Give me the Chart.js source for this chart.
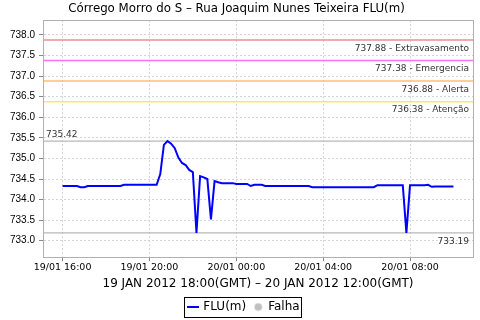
<!DOCTYPE html>
<html>
<head>
<meta charset="utf-8">
<script src="https://cdn.jsdelivr.net/npm/chart.js@4.4.1/dist/chart.umd.min.js"></script>
<style>
  body { margin: 0; background: #fff; }
  #wrap { width: 480px; height: 320px; }
</style>
</head>
<body>
<div id="wrap"><canvas id="myChart" width="480" height="320"></canvas></div>
<script>
// leituras do nivel (hora local), 19/01 16:00 -> 20/01 10:00
const times = ['16:00','16:40','16:50','17:00','17:10','18:40','18:50','20:20','20:30','20:40','20:50','21:00',
  '21:10','21:20','21:30','21:40','21:50','22:00','22:10','22:20','22:30','22:40','22:50','23:00','23:10','23:20',
  '23:50','00:00','00:30','00:40','00:50','01:10','01:20','03:20','03:30','06:20','06:30','07:40','07:50','08:00',
  '08:40','08:50','09:00','09:10','10:00'];
const levels = [734.33,734.33,734.30,734.30,734.33,734.33,734.36,734.36,734.62,735.33,735.42,735.36,
  735.25,735.02,734.89,734.84,734.72,734.67,733.19,734.57,734.54,734.50,733.52,734.45,734.42,734.40,
  734.40,734.38,734.38,734.33,734.36,734.36,734.33,734.33,734.30,734.30,734.35,734.35,733.19,734.35,
  734.35,734.36,734.31,734.32,734.32];

// cotas de referencia
const refValues = [737.88, 737.38, 736.88, 736.38];
const refNames = ['Extravasamento', 'Emergencia', 'Alerta', 'Atenção'];
const refColors = ['#ec8c8c', '#ff70ff', '#ffbe6e', '#ffe27a'];
const maxLevel = 735.42;
const minLevel = 733.19;

const yTicks = [733.0, 733.5, 734.0, 734.5, 735.0, 735.5, 736.0, 736.5, 737.0, 737.5, 738.0];
const xTickLabels = ['19/01 16:00', '19/01 20:00', '20/01 00:00', '20/01 04:00', '20/01 08:00'];
const xTicks = [960, 1200, 1440, 1680, 1920]; // minutos desde 19/01 00:00
const xMin = 906, xMax = 2094;
const yMin = 732.6, yMax = 738.36;

// converte HH:MM em minutos, virando o dia
let prev = -1, dayOff = 0;
const minutes = times.map(t => {
    let [h, m] = t.split(':').map(Number);
    let v = h * 60 + m + dayOff;
    if (v < prev) { dayOff += 1440; v += 1440; }
    prev = v;
    return v;
});
const fluData = minutes.map((x, i) => ({ x: x, y: levels[i] }));

function hLine(v) { return [{ x: xMin, y: v }, { x: xMax, y: v }]; }

// icones da legenda
function lineIcon() {
    const c = document.createElement('canvas');
    c.width = 12; c.height = 8;
    const g = c.getContext('2d');
    g.strokeStyle = '#0000ff'; g.lineWidth = 2;
    g.beginPath(); g.moveTo(0, 4); g.lineTo(12, 4); g.stroke();
    return c;
}
function dotIcon() {
    const c = document.createElement('canvas');
    c.width = 9; c.height = 9;
    const g = c.getContext('2d');
    g.fillStyle = '#c0c0c0';
    g.beginPath(); g.arc(4.5, 4.5, 3.8, 0, Math.PI * 2); g.fill();
    return c;
}

const datasets = [];
refValues.forEach((v, i) => {
    datasets.push({ data: hLine(v), borderColor: refColors[i], borderWidth: 1.5, pointRadius: 0, order: 5 });
});
datasets.push({ data: hLine(maxLevel), borderColor: '#b8b8b8', borderWidth: 1.2, pointRadius: 0, order: 5 });
datasets.push({ data: hLine(minLevel), borderColor: '#b8b8b8', borderWidth: 1.2, pointRadius: 0, order: 5 });
datasets.push({ label: 'FLU(m)', data: fluData, borderColor: '#0000ff', backgroundColor: '#0000ff',
    borderWidth: 2, pointRadius: 0, pointStyle: lineIcon(), order: 1 });
datasets.push({ label: 'Falha', data: [], borderColor: '#c0c0c0', backgroundColor: '#c0c0c0',
    pointStyle: dotIcon(), order: 2 });

const LEG_PAD = 8;

const refLabels = {
    id: 'refLabels',
    afterLayout(chart) {
        // centraliza a legenda no canvas inteiro
        chart.legend.left += 8;
        chart.legend.right += 8;
    },
    afterDatasetsDraw(chart) {
        const { ctx, chartArea, scales } = chart;
        const y = scales.y;
        ctx.save();
        ctx.font = '9px "DejaVu Sans"';
        ctx.fillStyle = '#333';
        ctx.textAlign = 'right';
        ctx.textBaseline = 'top';
        refValues.forEach((v, i) => {
            ctx.fillText(v.toFixed(2) + ' - ' + refNames[i], chartArea.right - 4, y.getPixelForValue(v) + 4);
        });
        ctx.fillText(minLevel.toFixed(2), chartArea.right - 4, y.getPixelForValue(minLevel) + 4);
        ctx.textAlign = 'left';
        ctx.textBaseline = 'bottom';
        ctx.fillText(maxLevel.toFixed(2), chartArea.left + 3, y.getPixelForValue(maxLevel) - 2);
        // moldura da area do grafico
        ctx.strokeStyle = '#b0b0b0';
        ctx.lineWidth = 1;
        ctx.strokeRect(Math.round(chartArea.left) + 0.5, Math.round(chartArea.top) + 0.5,
            Math.round(chartArea.width), Math.round(chartArea.height));
        ctx.restore();
    },
    afterDraw(chart) {
        const lg = chart.legend;
        const lw = lg.lineWidths[0];
        const a = (lg.left + LEG_PAD + lg.right - lw) / 2;
        const top = lg.top + LEG_PAD;
        const ctx = chart.ctx;
        ctx.save();
        ctx.strokeStyle = '#000';
        ctx.lineWidth = 1;
        ctx.strokeRect(Math.round(a) - 4.5, Math.round(top) - 3.5, Math.round(lw - LEG_PAD) + 7, 20);
        ctx.restore();
    }
};

const ctx = document.getElementById('myChart').getContext('2d');
const myChart = new Chart(ctx, {
    type: 'line',
    data: { datasets: datasets },
    options: {
        responsive: false,
        animation: false,
        devicePixelRatio: 1,
        layout: { padding: { left: 0, right: 7, top: 0, bottom: -3 } },
        plugins: {
            title: {
                display: true,
                text: 'Córrego Morro do S – Rua Joaquim Nunes Teixeira FLU(m)',
                color: '#000',
                font: { family: 'DejaVu Sans', size: 11.8, weight: 'normal' },
                padding: { top: 2, bottom: 4 }
            },
            legend: {
                position: 'bottom',
                labels: {
                    usePointStyle: true,
                    boxWidth: 8,
                    boxHeight: 9,
                    padding: LEG_PAD,
                    color: '#000',
                    font: { family: 'DejaVu Sans', size: 12 },
                    filter: item => item.text !== undefined && item.text !== ''
                }
            },
            tooltip: { enabled: false }
        },
        scales: {
            x: {
                type: 'linear',
                min: xMin,
                max: xMax,
                afterBuildTicks: s => { s.ticks = xTicks.map(v => ({ value: v })); },
                ticks: {
                    color: '#000',
                    font: { family: 'DejaVu Sans', size: 9.5 },
                    padding: 1,
                    maxRotation: 0,
                    callback: (v) => xTickLabels[xTicks.indexOf(v)]
                },
                grid: { color: '#d4d4d4', tickColor: '#888', tickLength: 4 },
                border: { color: '#888', dash: [2, 2] },
                title: {
                    display: true,
                    text: '19 JAN 2012 18:00(GMT) – 20 JAN 2012 12:00(GMT)',
                    color: '#000',
                    font: { family: 'DejaVu Sans', size: 12 },
                    padding: { top: 2, bottom: 2 }
                }
            },
            y: {
                min: yMin,
                max: yMax,
                afterBuildTicks: s => { s.ticks = yTicks.map(v => ({ value: v })); },
                afterFit: s => { s.width = 43; },
                ticks: {
                    color: '#000',
                    font: { family: 'Liberation Sans', size: 10 },
                    padding: 4,
                    callback: v => Number(v).toFixed(1)
                },
                grid: { color: '#d4d4d4', tickColor: '#888', tickLength: 4 },
                border: { color: '#888', dash: [2, 2] }
            }
        }
    },
    plugins: [refLabels]
});
</script>
</body>
</html>
